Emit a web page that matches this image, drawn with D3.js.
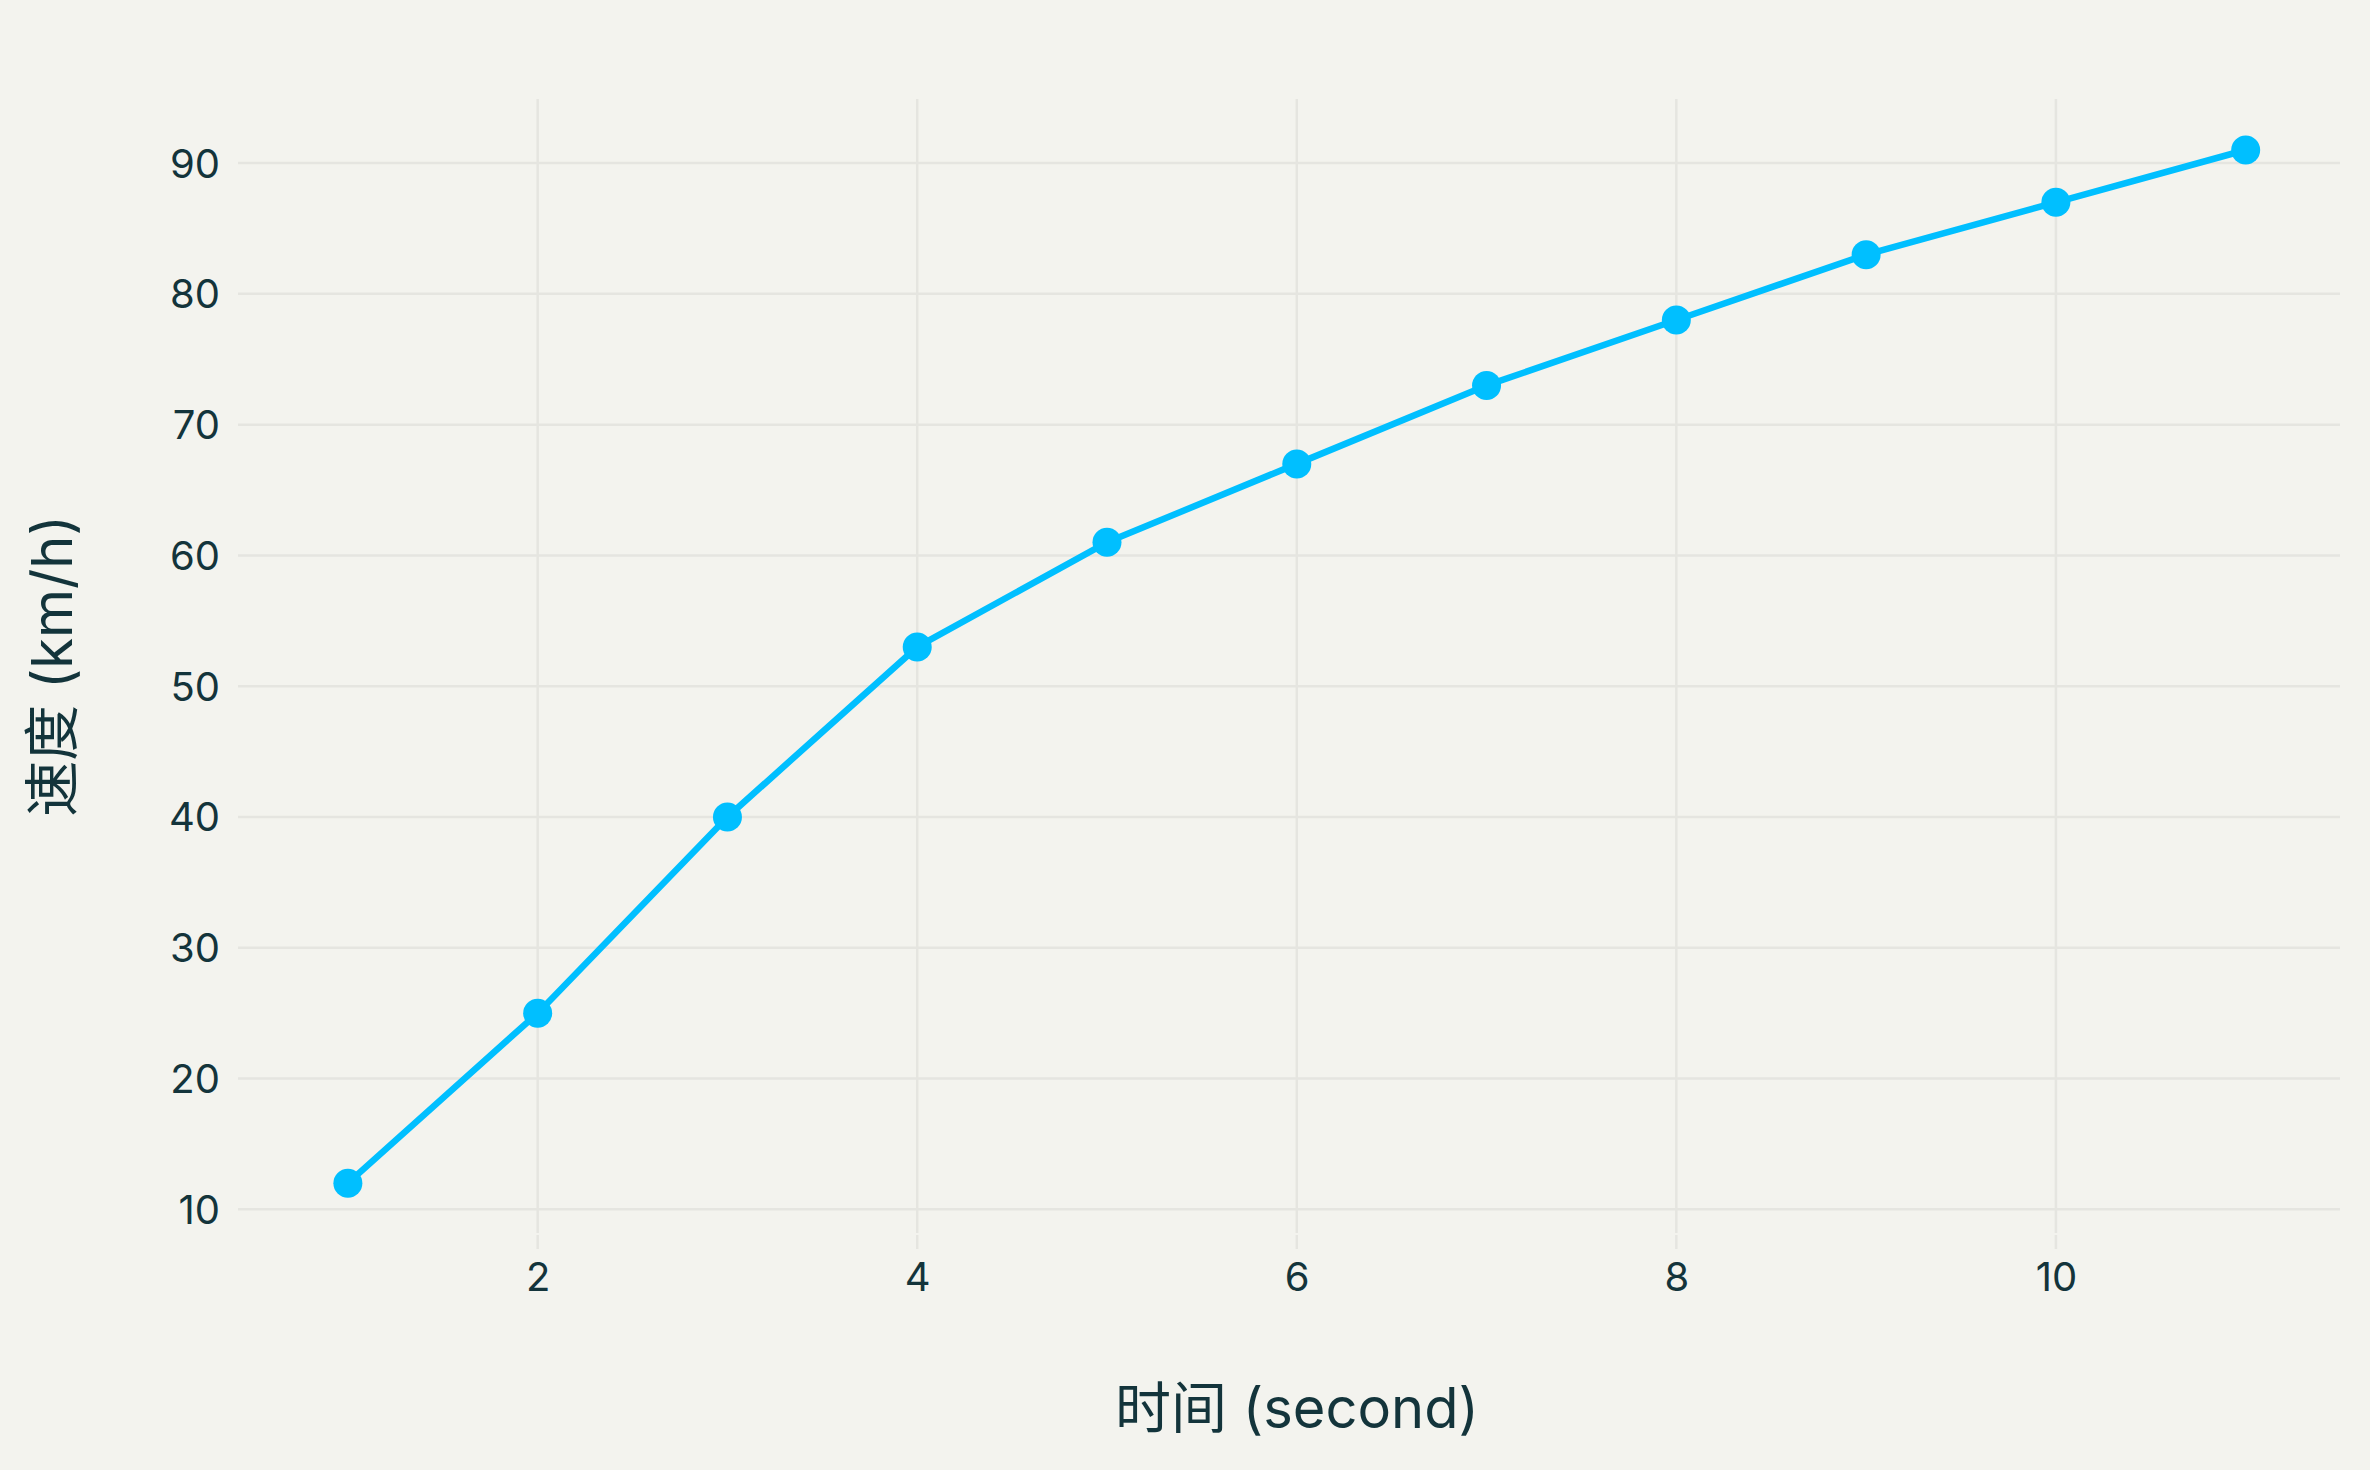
<!DOCTYPE html>
<html>
<head>
<meta charset="utf-8">
<script src="https://cdn.jsdelivr.net/npm/d3@7"></script>
<style>
  html, body { margin: 0; padding: 0; background: #f3f3ee; }
  svg { display: block; }
</style>
</head>
<body>
<svg id="stage"></svg>
<script>
// data
var seconds = [1, 2, 3, 4, 5, 6, 7, 8, 9, 10, 11];
var speeds = [12, 25, 40, 53, 61, 67, 73, 78, 83, 87, 91];
var xTicks = [2, 4, 6, 8, 10];
var yTicks = [10, 20, 30, 40, 50, 60, 70, 80, 90];
var xTitle = "时间 (second)";
var yTitle = "速度 (km/h)";

var W = 2370, H = 1470;
var plotLeft = 238, plotRight = 2340, plotTop = 99, plotBottom = 1233;

var svg = d3.select("#stage").attr("width", W).attr("height", H);
svg.append("rect").attr("width", W).attr("height", H).attr("fill", "#f3f3ee");

var x = d3.scaleLinear().domain([0.421, 11.497]).range([plotLeft, plotRight]);
var y = d3.scaleLinear().domain([8.19, 94.9]).range([plotBottom, plotTop]);

var gridColor = "#e5e5e0";
var textColor = "#13343b";
var font = "Inter, 'Noto Sans CJK SC', sans-serif";

// grid
var grid = svg.append("g");
grid.selectAll("line.h").data(yTicks).enter().append("line")
  .attr("x1", plotLeft).attr("x2", plotRight)
  .attr("y1", function(d){ return y(d); }).attr("y2", function(d){ return y(d); })
  .attr("stroke", gridColor).attr("stroke-width", 2.5);
grid.selectAll("line.v").data(xTicks).enter().append("line")
  .attr("x1", function(d){ return x(d); }).attr("x2", function(d){ return x(d); })
  .attr("y1", plotTop).attr("y2", plotBottom)
  .attr("stroke", gridColor).attr("stroke-width", 2.5);
// small ticks below plot
grid.selectAll("line.t").data(xTicks).enter().append("line")
  .attr("x1", function(d){ return x(d); }).attr("x2", function(d){ return x(d); })
  .attr("y1", plotBottom + 2).attr("y2", plotBottom + 16)
  .attr("stroke", gridColor).attr("stroke-width", 2.5);

// axes labels via d3 axes
var xAxis = svg.append("g").attr("transform", "translate(0," + (plotBottom + 30) + ")")
  .call(d3.axisBottom(x).tickValues(xTicks).tickSize(0).tickPadding(0));
var yAxis = svg.append("g").attr("transform", "translate(" + (plotLeft - 18) + ",0)")
  .call(d3.axisLeft(y).tickValues(yTicks).tickSize(0).tickPadding(0));
[xAxis, yAxis].forEach(function(a){
  a.select(".domain").remove();
  a.selectAll("text").attr("fill", textColor).style("font-family", font).style("font-size", "40px");
});
xAxis.selectAll("text").attr("dy", "0.71em");
yAxis.selectAll("text").attr("dy", "0.35em");

// line
var line = d3.line()
  .x(function(d){ return x(d[0]); })
  .y(function(d){ return y(d[1]); });
var pts = d3.zip(seconds, speeds);
svg.append("path").datum(pts)
  .attr("d", line)
  .attr("fill", "none")
  .attr("stroke", "#00bfff")
  .attr("stroke-width", 6.5)
  .attr("stroke-linejoin", "round");
svg.selectAll("circle.pt").data(pts).enter().append("circle")
  .attr("cx", function(d){ return x(d[0]); })
  .attr("cy", function(d){ return y(d[1]); })
  .attr("r", 14.5)
  .attr("fill", "#00bfff");

// titles
svg.append("text")
  .attr("x", (plotLeft + plotRight) / 2 + 8).attr("y", 1428)
  .attr("text-anchor", "middle")
  .attr("fill", textColor)
  .style("font-family", font).style("font-size", "56px")
  .text(xTitle);
svg.append("text")
  .attr("transform", "translate(" + 72 + "," + ((plotTop + plotBottom) / 2) + ") rotate(-90)")
  .attr("text-anchor", "middle")
  .attr("fill", textColor)
  .style("font-family", font).style("font-size", "56px")
  .text(yTitle);
</script>
</body>
</html>
